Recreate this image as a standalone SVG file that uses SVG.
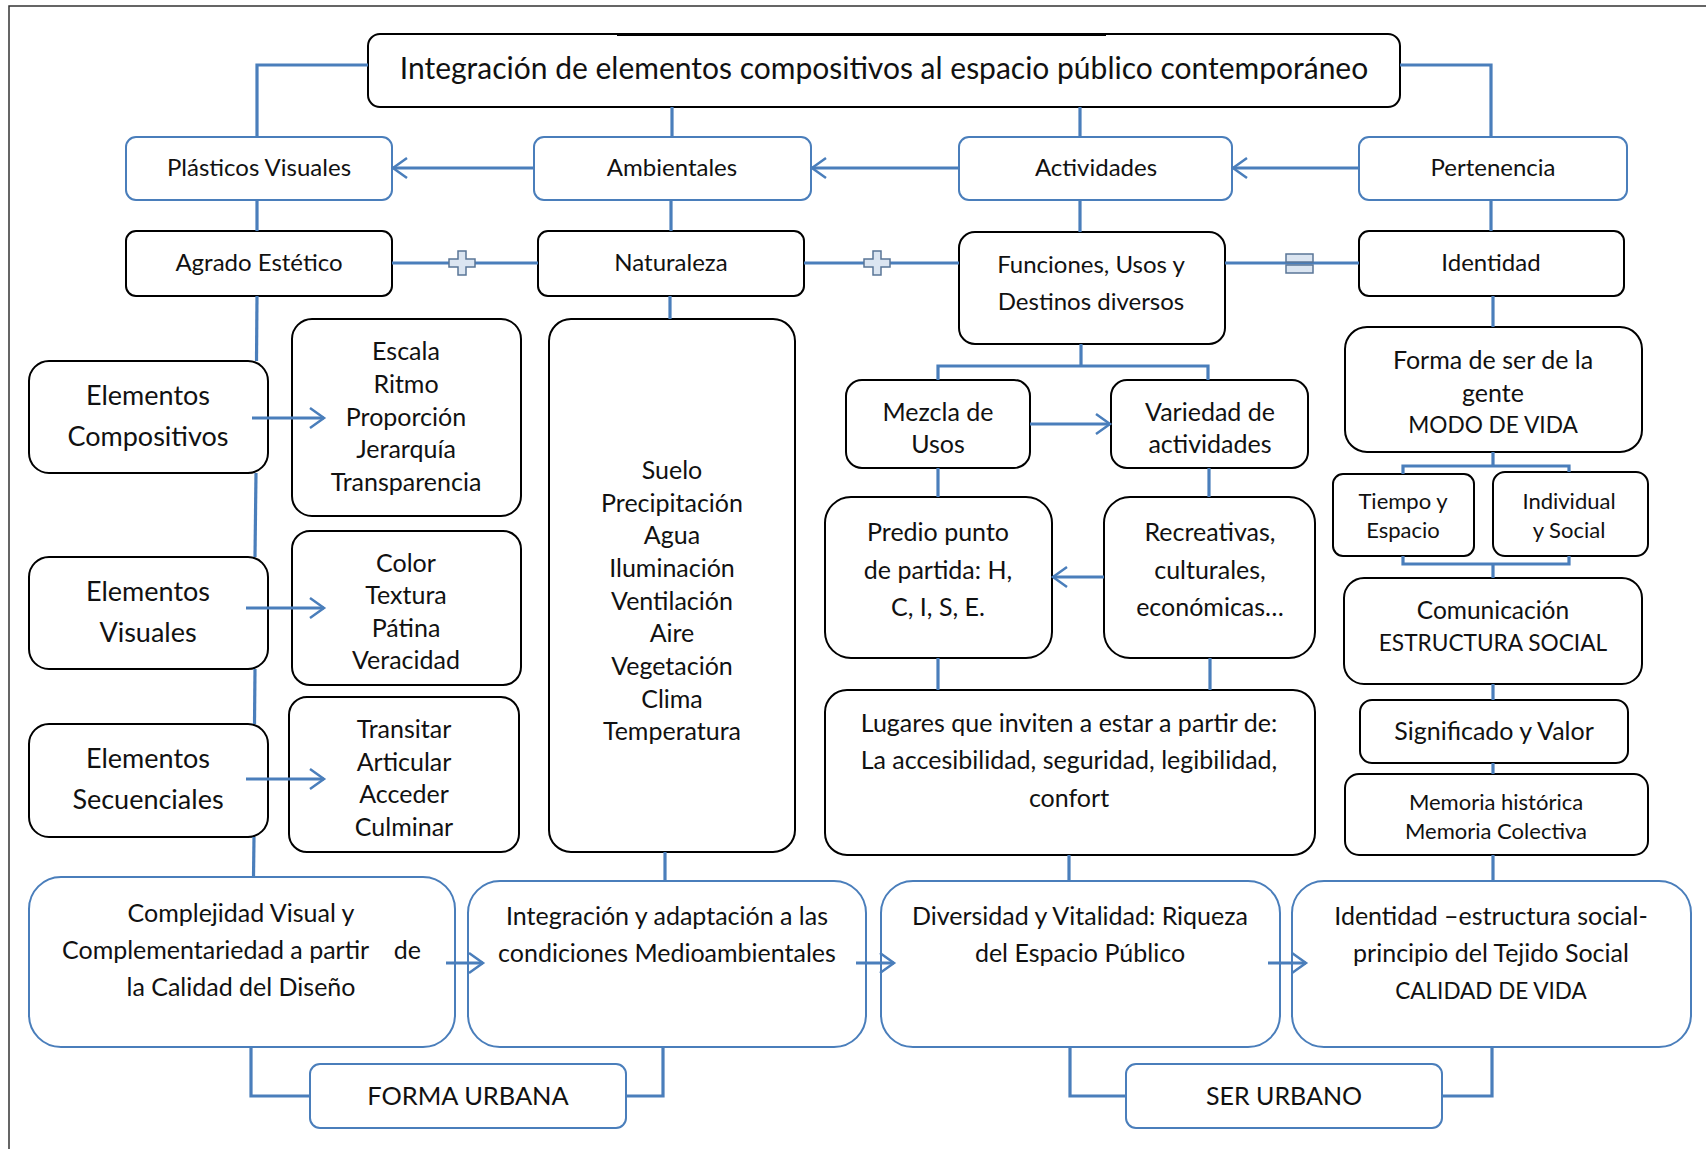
<svg xmlns="http://www.w3.org/2000/svg" width="1706" height="1149" viewBox="0 0 1706 1149">
<style>
text{font-family:Lato,"Open Sans","Liberation Sans",sans-serif;fill:#111;text-anchor:middle;dominant-baseline:central;transform:translateY(-2px)}
.bb{fill:#fff;stroke:#4a7ebb;stroke-width:2}
.kb{fill:#fff;stroke:#000;stroke-width:2}
.ln{fill:none;stroke:#4a7ebb;stroke-width:3.2}
.sym{fill:#dbe5f1;stroke:#5a7597;stroke-width:1.5}
.f24{font-size:24px}.f25{font-size:25px}.f22{font-size:22px}.f23{font-size:22.7px}.f27{font-size:27px}
</style>
<defs>
<marker id="arr" markerUnits="userSpaceOnUse" markerWidth="20" markerHeight="24" viewBox="-17 -12 20 24" refX="0" refY="0" orient="auto" overflow="visible">
<path d="M-14,-10 L0,0 L-14,10" fill="none" stroke="#4a7ebb" stroke-width="2.5"/>
</marker>
</defs>
<rect width="1706" height="1149" fill="#fff"/>
<path d="M9,1149 V6 H1706" fill="none" stroke="#333" stroke-width="1.5"/>

<g id="title">
<rect x="368" y="34" width="1032" height="73" rx="12" class="kb"/>
<path d="M617,34.5 H1106" stroke="#000" stroke-width="3"/>
<text x="884" y="69" style="font-size:30px">Integración de elementos compositivos al espacio público contemporáneo</text>
</g>

<g id="plasticos"><rect x="126" y="137" width="266" height="63" rx="10" class="bb"/><text x="259" y="168" class="f24">Plásticos Visuales</text></g>
<g id="ambientales"><rect x="534" y="137" width="277" height="63" rx="10" class="bb"/><text x="672" y="168" class="f24">Ambientales</text></g>
<g id="actividades"><rect x="959" y="137" width="273" height="63" rx="10" class="bb"/><text x="1096" y="168" class="f24">Actividades</text></g>
<g id="pertenencia"><rect x="1359" y="137" width="268" height="63" rx="10" class="bb"/><text x="1493" y="168" class="f24">Pertenencia</text></g>

<g id="agrado"><rect x="126" y="231" width="266" height="65" rx="10" class="kb"/><text x="259" y="263" class="f24">Agrado Estético</text></g>
<g id="naturaleza"><rect x="538" y="231" width="266" height="65" rx="10" class="kb"/><text x="671" y="263" class="f24">Naturaleza</text></g>
<g id="funciones"><rect x="959" y="232" width="266" height="112" rx="16" class="kb"/><text x="1091" y="265" class="f24">Funciones, Usos y</text><text x="1091" y="302" class="f24">Destinos diversos</text></g>
<g id="identidad"><rect x="1359" y="231" width="265" height="65" rx="10" class="kb"/><text x="1491" y="263" class="f24">Identidad</text></g>

<g id="elem-compositivos"><rect x="29" y="361" width="239" height="112" rx="20" class="kb"/><text x="148" y="396" class="f27">Elementos</text><text x="148" y="437" class="f27">Compositivos</text></g>
<g id="elem-visuales"><rect x="29" y="557" width="239" height="112" rx="20" class="kb"/><text x="148" y="592" class="f27">Elementos</text><text x="148" y="633" class="f27">Visuales</text></g>
<g id="elem-secuenciales"><rect x="29" y="724" width="239" height="113" rx="20" class="kb"/><text x="148" y="759" class="f27">Elementos</text><text x="148" y="800" class="f27">Secuenciales</text></g>

<g id="escala"><rect x="292" y="319" width="229" height="197" rx="20" class="kb"/>
<text x="406" y="352" class="f25">Escala</text><text x="406" y="385" class="f25">Ritmo</text><text x="406" y="418" class="f25">Proporción</text><text x="406" y="450" class="f25">Jerarquía</text><text x="406" y="483" class="f25">Transparencia</text></g>
<g id="color"><rect x="292" y="531" width="229" height="154" rx="18" class="kb"/>
<text x="406" y="564" class="f25">Color</text><text x="406" y="596" class="f25">Textura</text><text x="406" y="629" class="f25">Pátina</text><text x="406" y="661" class="f25">Veracidad</text></g>
<g id="transitar"><rect x="289" y="697" width="230" height="155" rx="18" class="kb"/>
<text x="404" y="730" class="f25">Transitar</text><text x="404" y="763" class="f25">Articular</text><text x="404" y="795" class="f25">Acceder</text><text x="404" y="828" class="f25">Culminar</text></g>

<g id="medio"><rect x="549" y="319" width="246" height="533" rx="22" class="kb"/>
<text x="672" y="471" class="f25">Suelo</text><text x="672" y="504" class="f25">Precipitación</text><text x="672" y="536" class="f25">Agua</text><text x="672" y="569" class="f25">Iluminación</text><text x="672" y="602" class="f25">Ventilación</text><text x="672" y="634" class="f25">Aire</text><text x="672" y="667" class="f25">Vegetación</text><text x="672" y="700" class="f25">Clima</text><text x="672" y="732" class="f25">Temperatura</text></g>

<g id="mezcla"><rect x="846" y="380" width="184" height="88" rx="16" class="kb"/><text x="938" y="413" class="f25">Mezcla de</text><text x="938" y="445" class="f25">Usos</text></g>
<g id="variedad"><rect x="1111" y="380" width="197" height="88" rx="16" class="kb"/><text x="1210" y="413" class="f25">Variedad de</text><text x="1210" y="445" class="f25">actividades</text></g>
<g id="predio"><rect x="825" y="497" width="227" height="161" rx="26" class="kb"/><text x="938" y="533" class="f25">Predio punto</text><text x="938" y="571" class="f25">de partida: H,</text><text x="938" y="608" class="f25">C, I, S, E.</text></g>
<g id="recreativas"><rect x="1104" y="497" width="211" height="161" rx="26" class="kb"/><text x="1210" y="533" class="f25">Recreativas,</text><text x="1210" y="571" class="f25">culturales,</text><text x="1210" y="608" class="f25">económicas…</text></g>
<g id="lugares"><rect x="825" y="690" width="490" height="165" rx="22" class="kb"/><text x="1069" y="724" class="f25">Lugares que inviten a estar a partir de:</text><text x="1069" y="761" class="f25">La accesibilidad, seguridad, legibilidad,</text><text x="1069" y="799" class="f25">confort</text></g>

<g id="forma-ser"><rect x="1345" y="327" width="297" height="125" rx="22" class="kb"/><text x="1493" y="361" class="f25">Forma de ser de la</text><text x="1493" y="394" class="f25">gente</text><text x="1493" y="426" class="f23">MODO DE VIDA</text></g>
<g id="tiempo"><rect x="1333" y="474" width="141" height="82" rx="10" class="kb"/><text x="1403" y="502" class="f22">Tiempo y</text><text x="1403" y="531" class="f22">Espacio</text></g>
<g id="individual"><rect x="1493" y="472" width="155" height="84" rx="12" class="kb"/><text x="1569" y="502" class="f22">Individual</text><text x="1569" y="531" class="f22">y Social</text></g>
<g id="comunicacion"><rect x="1344" y="578" width="298" height="106" rx="20" class="kb"/><text x="1493" y="611" style="font-size:24.5px">Comunicación</text><text x="1493" y="644" class="f23">ESTRUCTURA SOCIAL</text></g>
<g id="significado"><rect x="1360" y="700" width="268" height="63" rx="12" class="kb"/><text x="1494" y="732" class="f25">Significado y Valor</text></g>
<g id="memoria"><rect x="1345" y="774" width="303" height="81" rx="14" class="kb"/><text x="1496" y="803" class="f22">Memoria histórica</text><text x="1496" y="832" class="f22">Memoria Colectiva</text></g>

<g id="complejidad"><rect x="29" y="877" width="426" height="170" rx="32" class="bb"/>
<text x="241" y="914" class="f25">Complejidad Visual y</text>
<text y="951" class="f25"><tspan x="62" style="text-anchor:start">Complementariedad a partir</tspan><tspan x="421" style="text-anchor:end">de</tspan></text>
<text x="241" y="988" class="f25">la Calidad del Diseño</text></g>
<g id="integracion"><rect x="468" y="881" width="398" height="166" rx="32" class="bb"/><text x="667" y="917" class="f25">Integración y adaptación a las</text><text x="667" y="954" class="f25">condiciones Medioambientales</text></g>
<g id="diversidad"><rect x="881" y="881" width="399" height="166" rx="32" class="bb"/><text x="1080" y="917" class="f25">Diversidad y Vitalidad: Riqueza</text><text x="1080" y="954" class="f25">del Espacio Público</text></g>
<g id="identidad-tejido"><rect x="1292" y="881" width="399" height="166" rx="32" class="bb"/><text x="1491" y="917" class="f25">Identidad –estructura social-</text><text x="1491" y="954" class="f25">principio del Tejido Social</text><text x="1491" y="992" style="font-size:22.5px">CALIDAD DE VIDA</text></g>
<g id="forma-urbana"><rect x="310" y="1064" width="316" height="64" rx="10" class="bb"/><text x="468" y="1097" style="font-size:25.4px">FORMA URBANA</text></g>
<g id="ser-urbano"><rect x="1126" y="1064" width="316" height="64" rx="10" class="bb"/><text x="1284" y="1097" class="f25">SER URBANO</text></g>

<g id="connectors" class="ln">
<path d="M368,65 H257 V137"/>
<path d="M1400,65 H1491 V137"/>
<path d="M672,107 V137"/>
<path d="M1080,107 V137"/>
<path d="M534,168 H393" marker-end="url(#arr)"/>
<path d="M959,168 H812" marker-end="url(#arr)"/>
<path d="M1359,168 H1233" marker-end="url(#arr)"/>
<path d="M257,200 V231"/>
<path d="M671,200 V231"/>
<path d="M1080,200 V232"/>
<path d="M1491,200 V231"/>
<path d="M392,263 H538"/>
<path d="M804,263 H959"/>
<path d="M1225,263 H1359"/>
<path d="M257,296 L256.5,361"/>
<path d="M256,473 L255,557"/>
<path d="M255,669 L254.5,724"/>
<path d="M254,837 L253.5,877"/>
<path d="M252,418 H324" marker-end="url(#arr)"/>
<path d="M246,608 H324" marker-end="url(#arr)"/>
<path d="M246,779 H324" marker-end="url(#arr)"/>
<path d="M670,296 V319"/>
<path d="M665,852 V881"/>
<path d="M1081,344 V366 M938,380 V366 H1208 V380"/>
<path d="M1030,424 H1110" marker-end="url(#arr)"/>
<path d="M938,468 V497"/>
<path d="M1209,468 V497"/>
<path d="M1104,577 H1053" marker-end="url(#arr)"/>
<path d="M938,658 V690"/>
<path d="M1210,658 V690"/>
<path d="M1069,855 V881"/>
<path d="M1493,296 V327"/>
<path d="M1493,452 V466 M1403,474 V466 H1569 V472"/>
<path d="M1403,556 V564 H1569 V556 M1493,564 V578"/>
<path d="M1493,684 V700"/>
<path d="M1493,763 V774"/>
<path d="M1493,855 V881"/>
<path d="M446,963 H483" marker-end="url(#arr)"/>
<path d="M856,963 H894" marker-end="url(#arr)"/>
<path d="M1268,963 H1306" marker-end="url(#arr)"/>
<path d="M251,1047 V1096 H310"/>
<path d="M663,1047 V1096 H626"/>
<path d="M1070,1047 V1096 H1126"/>
<path d="M1492,1047 V1096 H1442"/>
<path class="sym" d="M458,251 H466 V259 H475 V267 H466 V275 H458 V267 H449 V259 H458 Z"/>
<path class="sym" d="M873,251 H881 V259 H890 V267 H881 V275 H873 V267 H864 V259 H873 Z"/>
<rect class="sym" x="1286" y="254" width="27" height="8"/>
<rect class="sym" x="1286" y="265" width="27" height="8"/>
</g>
</svg>
